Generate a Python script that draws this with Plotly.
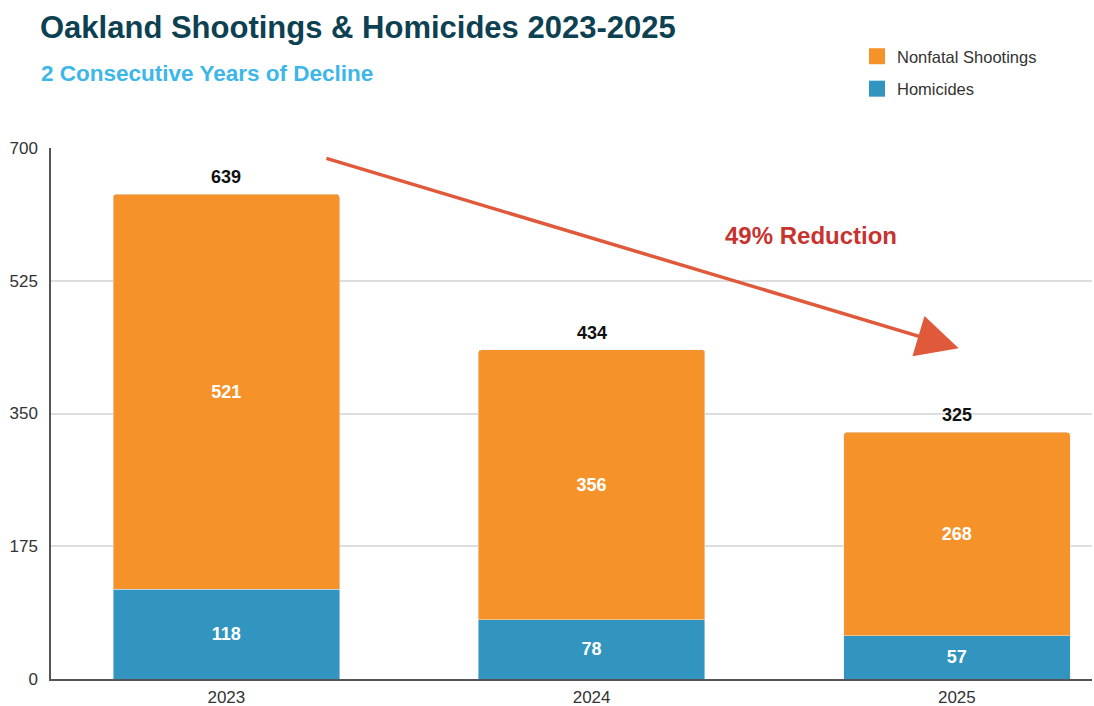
import plotly.graph_objects as go

years = ["2023", "2024", "2025"]
homicides = [118, 78, 57]
nonfatal = [521, 356, 268]
totals = [h + n for h, n in zip(homicides, nonfatal)]
y_ticks = [0, 175, 350, 525, 700]
reduction_label = "49% Reduction"
title_text = "Oakland Shootings &amp; Homicides 2023-2025"
subtitle_text = "2 Consecutive Years of Decline"

ORANGE = "#F5922A"
BLUE = "#3295C0"
FONT = "Liberation Sans, Arial, sans-serif"

W, H = 1094, 706
L, R, T, B = 51, 2, 148, 27
PW, PH = W - L - R, H - T - B


def px_x(p):
    return (p - L) / PW


def px_y(p):
    return (H - B - p) / PH


fig = go.Figure()
fig.add_trace(go.Bar(
    x=years, y=homicides, name="Homicides", marker_color=BLUE,
    text=homicides, textposition="inside", insidetextanchor="middle",
    textfont=dict(color="white", size=18, family=FONT, weight="bold"),
    width=0.62, showlegend=False,
))
fig.add_trace(go.Bar(
    x=years, y=nonfatal, name="Nonfatal Shootings", marker_color=ORANGE,
    text=nonfatal, textposition="inside", insidetextanchor="middle",
    textfont=dict(color="white", size=18, family=FONT, weight="bold"),
    width=0.62, showlegend=False,
))
# total labels above each stack (category index positions)
for i, tot in enumerate(totals):
    fig.add_annotation(
        x=i, y=tot, xref="x", yref="y", text=str(tot), showarrow=False,
        yanchor="bottom", yshift=5,
        font=dict(color="#111111", size=18, family=FONT, weight="bold"),
    )
# legend entries
for nm, col in [("Nonfatal Shootings", ORANGE), ("Homicides", BLUE)]:
    fig.add_trace(go.Scatter(
        x=[None], y=[None], mode="markers", name=nm, legendgroup=nm,
        marker=dict(symbol="square", size=16, color=col), hoverinfo="skip",
    ))

# decline arrow from 2023 total toward 2025
fig.add_annotation(
    x=2.005, y=totals[1] + 2, xref="x", yref="y",
    ax=0.27, ay=687, axref="x", ayref="y",
    text="", showarrow=True, arrowhead=2, arrowsize=2.4, arrowwidth=3.5,
    arrowcolor="#E0593A",
)
fig.add_annotation(
    x=1.6, y=585, xref="x", yref="y", text=reduction_label, showarrow=False,
    font=dict(color="#C7332E", size=24, family=FONT, weight="bold"),
)
fig.add_annotation(
    x=px_x(39), y=px_y(73), xref="paper", yref="paper", text=subtitle_text,
    showarrow=False, xanchor="left", yanchor="middle",
    font=dict(color="#3DB6EA", size=22.5, family=FONT, weight="bold"),
)

fig.update_layout(
    width=W, height=H,
    margin=dict(l=L, r=R, t=T, b=B, autoexpand=False),
    paper_bgcolor="white", plot_bgcolor="white",
    barmode="stack", barcornerradius=3,
    font=dict(family=FONT, color="#333333", size=17),
    title=dict(
        text=title_text,
        x=40 / W, xanchor="left", y=1 - 27 / H, yanchor="middle",
        font=dict(color="#0D4152", size=31, family=FONT, weight="bold"),
    ),
    legend=dict(
        x=px_x(857), y=px_y(39), xanchor="left", yanchor="top",
        font=dict(size=16.5, color="#333333", family=FONT),
        itemwidth=30, traceorder="grouped", tracegroupgap=8,
        itemsizing="trace", bgcolor="rgba(0,0,0,0)",
    ),
    xaxis=dict(
        range=[-0.48, 2.37], showline=True, linecolor="#555555", linewidth=1.5,
        ticks="", tickfont=dict(size=17, color="#333333"), showgrid=False,
        ticklabelstandoff=2,
    ),
    yaxis=dict(
        range=[0, 700], tickvals=y_ticks, showline=True, linecolor="#555555",
        linewidth=1.5, showgrid=True, gridcolor="#DDDDDD", gridwidth=1.5,
        zeroline=False, tickfont=dict(size=17, color="#333333"), ticks="",
        ticklabelstandoff=8,
    ),
    showlegend=True,
)

fig.write_html(
    "out.html",
    config={"displayModeBar": False},
    post_script="document.body.style.margin='0';document.body.style.overflow='hidden';",
)
